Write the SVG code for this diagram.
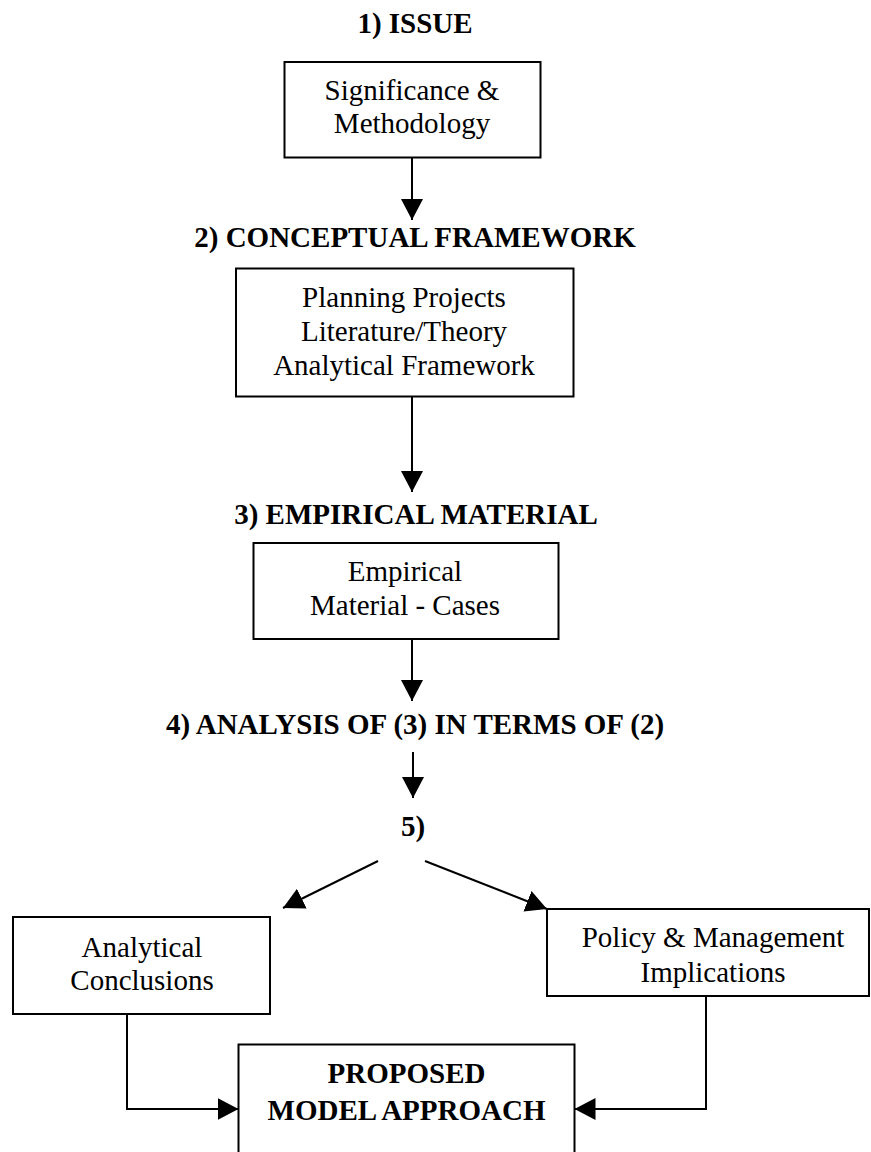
<svg xmlns="http://www.w3.org/2000/svg" width="871" height="1152" viewBox="0 0 871 1152">
<style>
.bg{fill:#ffffff}
.box{fill:#ffffff;stroke:#000;stroke-width:2}
.h{font-family:"Liberation Serif","Times New Roman",serif;font-size:29px;font-weight:bold;fill:#000;text-anchor:middle}
.t{font-family:"Liberation Serif","Times New Roman",serif;font-size:29px;fill:#000;text-anchor:middle}
.c{fill:none;stroke:#000;stroke-width:2;marker-end:url(#ah)}
</style>
<defs>
<marker id="ah" markerUnits="userSpaceOnUse" markerWidth="22" markerHeight="22" refX="21" refY="11" orient="auto">
<path d="M0,0 L21,11 L0,22 Z" fill="#000"/>
</marker>
</defs>
<rect class="bg" x="0" y="0" width="871" height="1152"/>

<g id="h1"><text class="h" x="415" y="33">1) ISSUE</text></g>
<g id="n1">
<rect class="box" x="284.5" y="62" width="256" height="95.5"/>
<text class="t" x="412" y="100">Significance &amp;</text>
<text class="t" x="412" y="133">Methodology</text>
</g>

<g id="h2"><text class="h" x="415" y="247">2) CONCEPTUAL FRAMEWORK</text></g>
<g id="n2">
<rect class="box" x="236" y="268.5" width="337.5" height="128"/>
<text class="t" x="404" y="307">Planning Projects</text>
<text class="t" x="404" y="341">Literature/Theory</text>
<text class="t" x="404" y="375">Analytical Framework</text>
</g>

<g id="h3"><text class="h" x="416" y="524">3) EMPIRICAL MATERIAL</text></g>
<g id="n3">
<rect class="box" x="253.5" y="543" width="305" height="96"/>
<text class="t" x="405" y="581">Empirical</text>
<text class="t" x="405" y="615">Material - Cases</text>
</g>

<g id="h4"><text class="h" x="415" y="734">4) ANALYSIS OF (3) IN TERMS OF (2)</text></g>

<g id="h5"><text class="h" x="413" y="836">5)</text></g>

<g id="n6">
<rect class="box" x="13" y="917" width="257" height="97"/>
<text class="t" x="142" y="957">Analytical</text>
<text class="t" x="142" y="990">Conclusions</text>
</g>

<g id="n7">
<rect class="box" x="547" y="909" width="322" height="87"/>
<text class="t" x="713" y="947">Policy &amp; Management</text>
<text class="t" x="713" y="982">Implications</text>
</g>

<g id="n8">
<rect class="box" x="238.5" y="1044.5" width="336" height="130"/>
<text class="h" x="406.5" y="1083">PROPOSED</text>
<text class="h" x="406.5" y="1120">MODEL APPROACH</text>
</g>

<g id="connectors">
<path class="c" d="M412,157.5 L412,220"/>
<path class="c" d="M412,396.5 L412,492"/>
<path class="c" d="M412,639 L412,701"/>
<path class="c" d="M413,752 L413,798"/>
<path class="c" d="M378,861 L283,908"/>
<path class="c" d="M425,861 L547,909"/>
<path class="c" d="M127,1014 L127,1109 L238.5,1109"/>
<path class="c" d="M706,996 L706,1109 L574.5,1109"/>
</g>
</svg>
